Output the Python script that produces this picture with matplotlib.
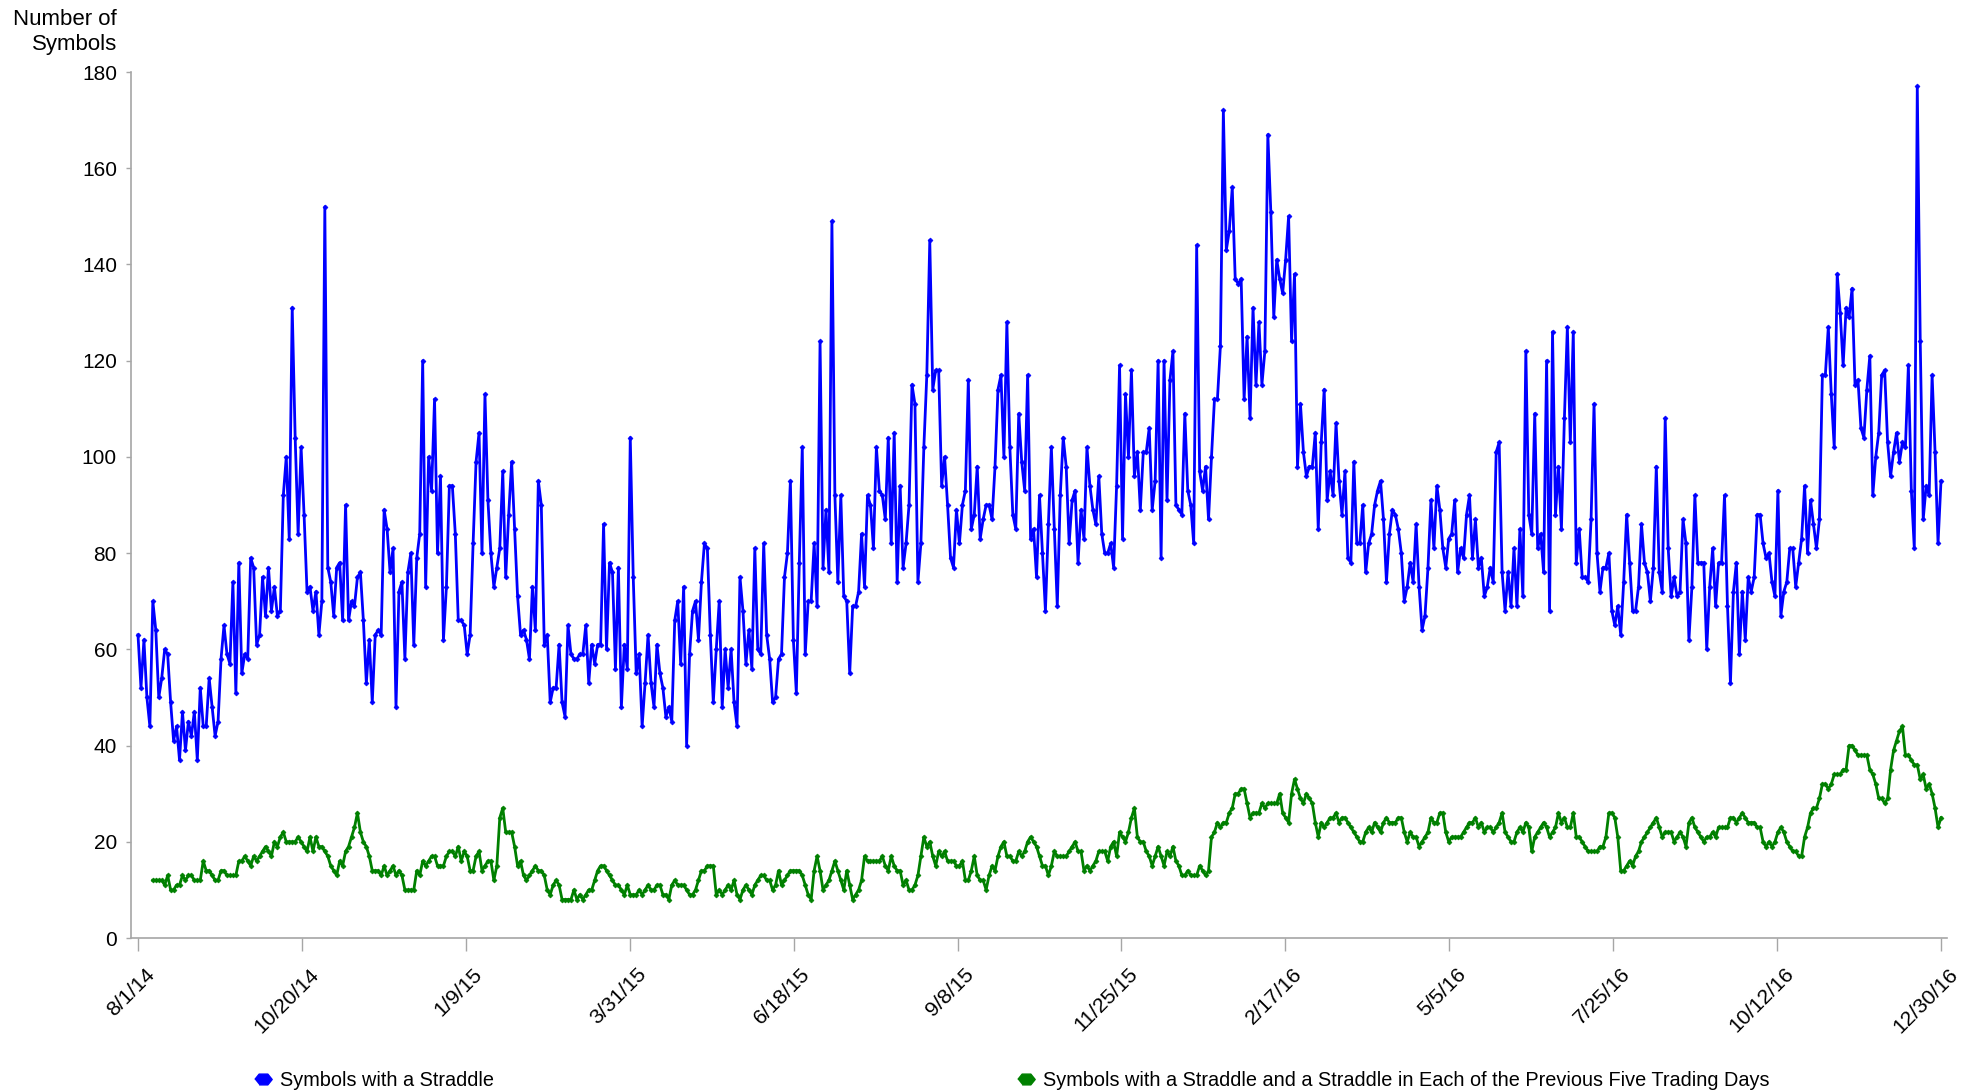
import matplotlib
matplotlib.use("Agg")
import matplotlib.pyplot as plt
import matplotlib.transforms as mtransforms
from matplotlib.lines import Line2D
import numpy as np

plt.rcParams['font.family'] = ['Liberation Sans', 'DejaVu Sans']

# daily counts, one value per trading day (8/1/14 .. 12/30/16)
straddle = [
    63, 52, 62, 50, 44, 70, 64, 50, 54, 60, 59, 49, 41, 44, 37, 47, 39, 45, 42, 47,
    37, 52, 44, 44, 54, 48, 42, 45, 58, 65, 59, 57, 74, 51, 78, 55, 59, 58, 79, 77,
    61, 63, 75, 67, 77, 68, 73, 67, 68, 92, 100, 83, 131, 104, 84, 102, 88, 72, 73, 68,
    72, 63, 70, 152, 77, 74, 67, 77, 78, 66, 90, 66, 70, 69, 75, 76, 66, 53, 62, 49,
    63, 64, 63, 89, 85, 76, 81, 48, 72, 74, 58, 76, 80, 61, 79, 84, 120, 73, 100, 93,
    112, 80, 96,
    62, 73, 94, 94, 84, 66, 66, 65, 59, 63, 82, 99, 105, 80, 113, 91, 80, 73, 77, 81,
    97, 75, 88, 99, 85, 71, 63, 64, 62, 58, 73, 64, 95, 90, 61, 63, 49, 52, 52, 61,
    49, 46, 65, 59, 58, 58, 59, 59, 65, 53, 61, 57, 61, 61, 86, 60, 78, 76, 56, 77,
    48, 61, 56, 104, 75, 55, 59, 44, 53, 63, 53, 48, 61, 55, 52, 46, 48, 45, 66, 70,
    57, 73, 40, 59, 68, 70, 62, 74, 82, 81, 63, 49, 60, 70, 48, 60, 52, 60, 49, 44,
    75,
    68, 57, 64, 56, 81, 60, 59, 82, 63, 58, 49, 50, 58, 59, 75, 80, 95, 62, 51, 78,
    102, 59, 70, 70, 82, 69, 124, 77, 89, 76, 149, 92, 74, 92, 71, 70, 55, 69, 69, 72,
    84, 73, 92, 90, 81, 102, 93, 92, 87, 104, 82, 105, 74, 94, 77, 82, 90, 115, 111, 74,
    82, 102, 117, 145, 114, 118, 118, 94, 100, 90, 79, 77, 89, 82, 90, 93, 116, 85, 88, 98,
    83, 87, 90, 90, 87, 98, 114, 117, 100, 128, 102, 88, 85, 109, 99, 93, 117, 83, 85, 75,
    92,
    80, 68, 86, 102, 85, 69, 92, 104, 98, 82, 91, 93, 78, 89, 83, 102, 94, 89, 86, 96,
    84, 80, 80, 82, 77, 94, 119, 83, 113, 100, 118, 96, 101, 89, 101, 101, 106, 89, 95, 120,
    79, 120, 91, 116, 122, 90, 89, 88, 109, 93, 90, 82, 144, 97, 93, 98, 87, 100, 112, 112,
    123, 172, 143, 147, 156, 137, 136, 137, 112, 125, 108, 131, 115, 128, 115, 122, 167, 151, 129, 141,
    137, 134, 141, 150, 124, 138, 98, 111, 101, 96, 98, 98, 105, 85, 103, 114, 91, 97, 92, 107,
    95,
    88, 97, 79, 78, 99, 82, 82, 90, 76, 82, 84, 90, 93, 95, 87, 74, 84, 89, 88, 85,
    80, 70, 73, 78, 74, 86, 73, 64, 67, 77, 91, 81, 94, 89, 81, 77, 83, 84, 91, 76,
    81, 79, 88, 92, 79, 87, 77, 79, 71, 73, 77, 74, 101, 103, 76, 68, 76, 69, 81, 69,
    85, 71, 122, 88, 84, 109, 81, 84, 76, 120, 68, 126, 88, 98, 85, 108, 127, 103, 126, 78,
    85, 75, 75, 74, 87, 111, 80, 72, 77, 77, 80, 68, 65, 69, 63, 74, 88, 78, 68, 68,
    73,
    86, 78, 76, 70, 77, 98, 76, 72, 108, 81, 71, 75, 71, 72, 87, 82, 62, 73, 92, 78,
    78, 78, 60, 73, 81, 69, 78, 78, 92, 69, 53, 72, 78, 59, 72, 62, 75, 72, 75, 88,
    88, 82, 79, 80, 74, 71, 93, 67, 72, 74, 81, 81, 73, 78, 83, 94, 80, 91, 86, 81,
    87, 117, 117, 127, 113, 102, 138, 130, 119, 131, 129, 135, 115, 116, 106, 104, 114, 121, 92, 100,
    105, 117, 118, 103, 96, 101, 105, 99, 103, 102, 119, 93, 81, 177, 124, 87, 94, 92, 117, 101,
    82, 95,
]

# needs five prior trading days, so the first five days have no value
straddle_5d = [np.nan] * 5 + [
    12, 12, 12, 12, 11, 13, 10, 10, 11, 11, 13, 12, 13, 13, 12, 12, 12, 16, 14, 14,
    13, 12, 12, 14, 14, 13, 13, 13, 13, 16, 16, 17, 16, 15, 17, 16, 17, 18, 19, 18,
    17, 20, 19, 21, 22, 20, 20, 20, 20, 21, 20, 19, 18, 21, 18, 21, 19, 19, 18, 17,
    15, 14, 13, 16, 15, 18, 19, 21, 23, 26, 22, 20, 19, 17, 14, 14, 14, 13, 15, 13,
    14, 15, 13, 14, 13, 10, 10, 10, 10, 14, 13, 16, 15, 16, 17, 17, 15, 15,
    15, 17, 18, 18, 17, 19, 16, 18, 17, 14, 14, 17, 18, 14, 15, 16, 16, 12, 15, 25,
    27, 22, 22, 22, 19, 15, 16, 13, 12, 13, 14, 15, 14, 14, 13, 10, 9, 11, 12, 11,
    8, 8, 8, 8, 10, 8, 9, 8, 9, 10, 10, 12, 14, 15, 15, 14, 13, 12, 11, 11,
    10, 9, 11, 9, 9, 9, 10, 9, 10, 11, 10, 10, 11, 11, 9, 9, 8, 11, 12, 11,
    11, 11, 10, 9, 9, 10, 12, 14, 14, 15, 15, 15, 9, 10, 9, 10, 11, 10, 12, 9, 8,
    10, 11, 10, 9, 11, 12, 13, 13, 12, 12, 10, 11, 14, 11, 12, 13, 14, 14, 14, 14,
    13, 11, 9, 8, 14, 17, 14, 10, 11, 12, 14, 16, 14, 12, 10, 14, 11, 8, 9, 10,
    12, 17, 16, 16, 16, 16, 16, 17, 15, 14, 17, 15, 14, 14, 11, 12, 10, 10, 11, 13,
    17, 21, 19, 20, 17, 15, 18, 17, 18, 16, 16, 16, 15, 15, 16, 12, 12, 14, 17, 13,
    12, 12, 10, 13, 15, 14, 17, 19, 20, 17, 17, 16, 16, 18, 17, 18, 20, 21, 20, 19, 17,
    15, 15, 13, 15, 18, 17, 17, 17, 17, 18, 19, 20, 18, 18, 14, 15, 14, 15, 16, 18,
    18, 18, 16, 19, 20, 17, 22, 21, 20, 22, 25, 27, 21, 20, 20, 18, 17, 15, 17, 19,
    17, 15, 18, 17, 19, 16, 15, 13, 13, 14, 13, 13, 13, 15, 14, 13, 14, 21, 22, 24,
    23, 24, 24, 26, 27, 30, 30, 31, 31, 28, 25, 26, 26, 26, 28, 27, 28, 28, 28, 28,
    30, 26, 25, 24, 30, 33, 31, 29, 28, 30, 29, 28, 24, 21, 24, 23, 24, 25, 25, 26, 24,
    25, 25, 24, 23, 22, 21, 20, 20, 22, 23, 22, 24, 23, 22, 24, 25, 24, 24, 24, 25,
    25, 22, 20, 22, 21, 21, 19, 20, 21, 22, 25, 24, 24, 26, 26, 22, 20, 21, 21, 21,
    21, 22, 23, 24, 24, 25, 23, 24, 22, 23, 23, 22, 23, 24, 26, 22, 21, 20, 20, 22,
    23, 22, 24, 23, 18, 21, 22, 23, 24, 23, 21, 22, 23, 26, 24, 25, 23, 23, 26, 21,
    21, 20, 19, 18, 18, 18, 18, 19, 19, 21, 26, 26, 25, 21, 14, 14, 15, 16, 15, 17, 18,
    20, 21, 22, 23, 24, 25, 23, 21, 22, 22, 22, 20, 21, 22, 21, 19, 24, 25, 23, 22,
    21, 20, 21, 21, 22, 21, 23, 23, 23, 23, 25, 25, 24, 25, 26, 25, 24, 24, 24, 23,
    23, 20, 19, 20, 19, 20, 22, 23, 22, 20, 19, 18, 18, 17, 17, 21, 23, 26, 27, 27,
    29, 32, 32, 31, 32, 34, 34, 34, 35, 35, 40, 40, 39, 38, 38, 38, 38, 35, 34, 32,
    29, 29, 28, 29, 35, 39, 41, 43, 44, 38, 38, 37, 36, 36, 33, 34, 31, 32, 30, 27,
    23, 25,
]

date_labels = ['8/1/14', '10/20/14', '1/9/15', '3/31/15', '6/18/15', '9/8/15',
               '11/25/15', '2/17/16', '5/5/16', '7/25/16', '10/12/16', '12/30/16']

n = len(straddle)
days = np.arange(n)
days_5d = np.arange(len(straddle_5d))

fig = plt.figure(figsize=(19.68, 10.9), dpi=100)
ax = fig.add_axes([131 / 1968, 152 / 1090, 1816 / 1968, 866 / 1090])

ax.plot(days, straddle, color='#0000ff', lw=2.0, marker='D', ms=2.5,
        markeredgewidth=0.5)
ax.plot(days_5d, straddle_5d, color='#008000', lw=2.0, marker='D', ms=2.5,
        markeredgewidth=0.5)

px_per_day = 1803 / (n - 1)
ax.set_xlim(-7 / px_per_day, (n - 1) + 6 / px_per_day)
ax.set_ylim(0, 180)
ax.set_yticks(np.arange(0, 181, 20))
ax.set_xticks(np.linspace(0, n - 1, len(date_labels)))
ax.set_xticklabels(date_labels, rotation=45, ha='right', va='top',
                   rotation_mode='anchor')

ax.tick_params(axis='y', length=3.6, width=1.0, color='#a6a6a6', pad=6.5,
               labelsize=15)
ax.tick_params(axis='x', length=9.5, width=1.0, color='#a6a6a6', pad=9.5,
               labelsize=15.3)

# nudge the slanted date labels a little to the right of their ticks
shift = mtransforms.ScaledTranslation(7 / 100, 0, fig.dpi_scale_trans)
for lbl in ax.get_xticklabels():
    lbl.set_transform(lbl.get_transform() + shift)

for side in ['top', 'right']:
    ax.spines[side].set_visible(False)
for side in ['left', 'bottom']:
    ax.spines[side].set_color('#a6a6a6')
    ax.spines[side].set_linewidth(1.2)

fig.text(117 / 1968, 1 - 9 / 1090, 'Number of\nSymbols', ha='right', va='top',
         fontsize=16, linespacing=1.25)

# flattened hexagon for the legend keys
hexagon = [(-1, 0), (-0.5, 0.62), (0.5, 0.62), (1, 0), (0.5, -0.62), (-0.5, -0.62)]
h1 = Line2D([], [], color='#0000ff', marker=hexagon, ms=12.5, lw=0)
h2 = Line2D([], [], color='#008000', marker=hexagon, ms=12.5, lw=0)
leg_kw = dict(frameon=False, fontsize=14.3, handlelength=1.0, handletextpad=0.38,
              borderpad=0, borderaxespad=0, loc='center left')
fig.legend([h1], ['Symbols with a Straddle'],
           bbox_to_anchor=(253 / 1968, 10 / 1090), **leg_kw)
fig.legend([h2], ['Symbols with a Straddle and a Straddle in Each of the Previous Five Trading Days'],
           bbox_to_anchor=(1016 / 1968, 10 / 1090), **leg_kw)

fig.savefig('out.png', dpi=100)
